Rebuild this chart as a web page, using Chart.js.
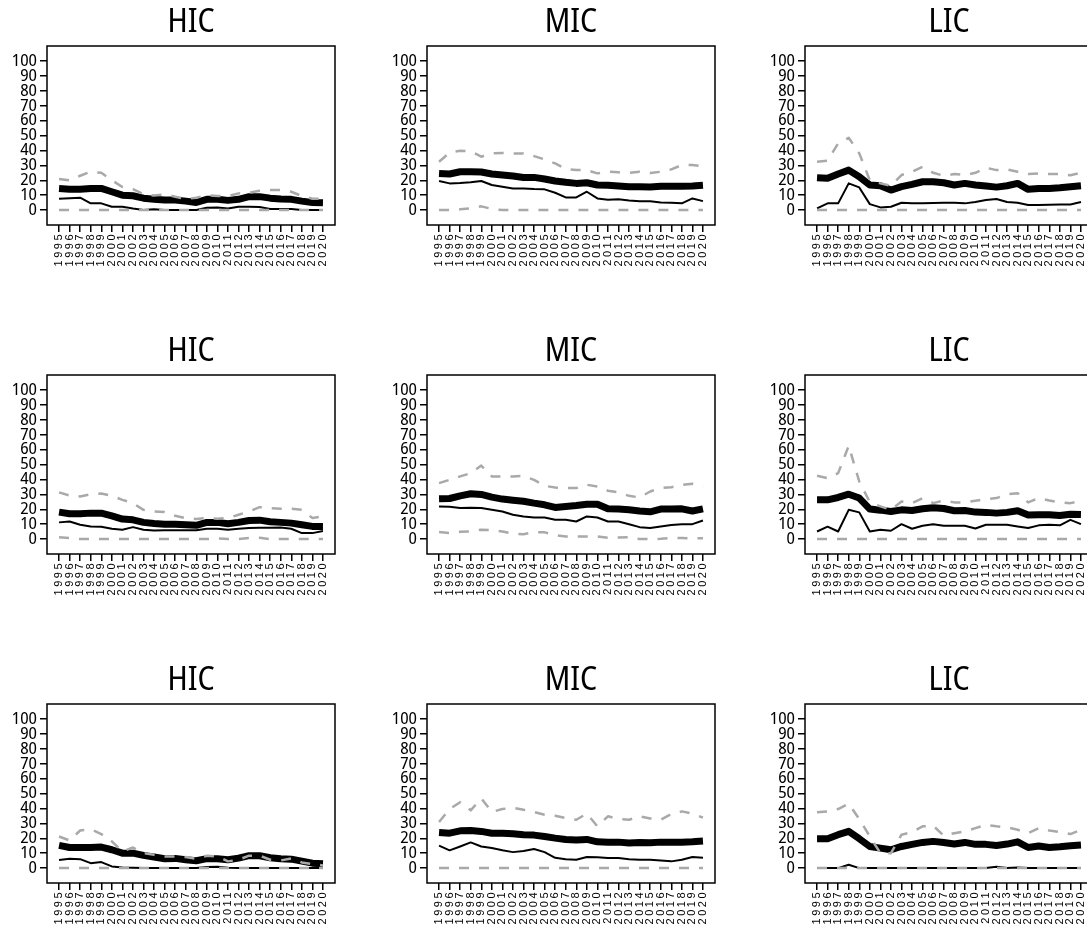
<!DOCTYPE html>
<html>
<head>
<meta charset="utf-8">
<script src="https://cdn.jsdelivr.net/npm/chart.js@4.4.1/dist/chart.umd.min.js"></script>
<style>
    html, body { margin: 0; padding: 0; background: #fff; width: 1087px; height: 932px; overflow: hidden; }
    .panel { position: absolute; width: 380px; height: 310px; }
</style>
</head>
<body>
<div class="panel" style="left:0px;top:0px"><canvas id="c1" width="380" height="310"></canvas></div>
<div class="panel" style="left:380px;top:0px"><canvas id="c2" width="380" height="310"></canvas></div>
<div class="panel" style="left:758px;top:0px"><canvas id="c3" width="380" height="310"></canvas></div>
<div class="panel" style="left:0px;top:329px"><canvas id="c4" width="380" height="310"></canvas></div>
<div class="panel" style="left:380px;top:329px"><canvas id="c5" width="380" height="310"></canvas></div>
<div class="panel" style="left:758px;top:329px"><canvas id="c6" width="380" height="310"></canvas></div>
<div class="panel" style="left:0px;top:658px"><canvas id="c7" width="380" height="310"></canvas></div>
<div class="panel" style="left:380px;top:658px"><canvas id="c8" width="380" height="310"></canvas></div>
<div class="panel" style="left:758px;top:658px"><canvas id="c9" width="380" height="310"></canvas></div>
<script>
const years = [1995, 1996, 1997, 1998, 1999, 2000, 2001, 2002, 2003, 2004, 2005, 2006, 2007,
    2008, 2009, 2010, 2011, 2012, 2013, 2014, 2015, 2016, 2017, 2018, 2019, 2020];
const yTicks = [0, 10, 20, 30, 40, 50, 60, 70, 80, 90, 100];

// Row 1
const hic1Thick = [14.5, 14, 14, 14.5, 14.5, 12.3, 10, 9.6, 8, 7.2, 6.7, 6.7, 6, 5.1, 7.2, 7.2, 6.5, 7.2, 9, 9, 8, 7.4, 7.2, 6, 5.1, 4.9];
const hic1Thin = [7.6, 8, 8.3, 4.5, 4.5, 2.2, 2.2, 1, 0, 0.5, 0, 0, 0, 0, 1.5, 1.8, 1, 2.2, 2.2, 2, 0.7, 0.7, 0.7, 0, 0, 0];
const hic1Upper = [20.8, 20, 23, 25.7, 25, 20, 15.5, 14, 10.7, 9.8, 10.5, 9, 7.4, 8.3, 10, 9.4, 9.4, 11.2, 11.6, 13, 13.4, 13.4, 12.3, 9.4, 7.6, 7.6];
const hic1Lower = [0, 0, 0, 0, 0, 0, 0, 0, 0, 0, 0, 0, 0, 0, 0, 0, 0, 0, 0, 0, 0, 0, 0, 0, 0, 0];

const mic1Thick = [24.6, 24.2, 25.7, 25.7, 25.5, 24.2, 23.5, 22.8, 21.9, 21.9, 20.8, 19.5, 18.6, 17.9, 18.3, 16.8, 16.6, 16.1, 15.7, 15.7, 15.4, 15.9, 15.9, 15.9, 16.1, 16.6];
const mic1Thin = [19.5, 17.9, 18.1, 18.6, 19.5, 16.8, 15.7, 14.5, 14.5, 14.1, 13.9, 11.6, 8.5, 8.5, 12.3, 7.8, 6.9, 7.2, 6.5, 6, 6, 5.1, 4.9, 4.5, 7.8, 6];
const mic1Upper = [32.4, 38.5, 39.8, 39.4, 35.8, 38, 38.3, 38, 38, 36.2, 34, 31.3, 27.5, 26.8, 26.8, 24.6, 25.7, 25.3, 25, 25.7, 24.8, 25.7, 27.3, 30.2, 30.2, 29.5];
const mic1Lower = [0, 0, 0.5, 1.2, 2.5, 0.8, 0, 0, 0, 0, 0, 0, 0, 0, 0, 0, 0, 0, 0, 0, 0, 0, 0, 0, 0, 0];

const lic1Thick = [21.7, 21.3, 24.2, 26.8, 22.4, 16.8, 16.3, 13.4, 15.7, 17.2, 19, 19, 18.3, 16.8, 17.9, 16.8, 16.1, 15.4, 16.3, 17.9, 13.9, 14.5, 14.5, 15, 15.7, 16.3];
const lic1Thin = [1.1, 4.5, 4.5, 17.9, 15.2, 4, 1.8, 2.2, 4.9, 4.5, 4.5, 4.7, 4.9, 4.9, 4.5, 5.4, 6.7, 7.4, 5.4, 4.9, 3.4, 3.4, 3.6, 3.8, 3.8, 5.4];
const lic1Upper = [32.4, 33.1, 44.7, 48.5, 38, 20, 17.9, 16.3, 23.5, 25.7, 29, 25, 23, 24.2, 23.5, 25, 28.4, 26.8, 27.3, 25.7, 24.2, 24.6, 24.2, 24.2, 23.3, 25];
const lic1Lower = [0, 0, 0, 0, 0, 0, 0, 0, 0, 0, 0, 0, 0, 0, 0, 0, 0, 0, 0, 0, 0, 0, 0, 0, 0, 0];

// Row 2
const hic2Thick = [18.1, 17, 17, 17.4, 17.4, 15.6, 13.4, 12.9, 11.2, 10.5, 10, 10, 9.6, 9.2, 11.2, 11.2, 10.3, 11.2, 12.5, 12.7, 11.6, 11.2, 10.7, 9.6, 8.5, 8.5];
const hic2Thin = [11.2, 11.8, 9.6, 8.5, 8.3, 6.9, 6.3, 8, 6.3, 5.8, 6, 6, 6, 6, 6.9, 6.9, 6.3, 6.9, 7.4, 7.6, 7.6, 7.8, 6.9, 4, 4, 5.4];
const hic2Upper = [31.3, 29.2, 28.6, 30.1, 30.6, 29, 26.3, 24.1, 19.6, 18.5, 18.1, 15.6, 14.1, 13.4, 14.1, 13.6, 14.1, 16.3, 18.5, 21.4, 20.8, 20.3, 20.3, 19.6, 14.1, 15.2];
const hic2Lower = [1.3, 0.7, 0, 0, 0, 0, 0, 0, 0, 0, 0, 0, 0, 0, 0, 0.4, 0, 0, 0.7, 0.9, 0, 0, 0, 0, 0, 0];

const mic2Thick = [27, 27.2, 29, 30.4, 29.9, 28.1, 26.8, 26.1, 25.4, 24.1, 23, 21.2, 21.9, 22.5, 23.4, 23.4, 20.3, 20.1, 19.6, 18.8, 18.3, 20.1, 20.1, 20.3, 18.8, 20.3];
const mic2Thin = [21.9, 21.7, 20.8, 21, 20.8, 19.6, 18.5, 16.3, 15.2, 14.5, 14.5, 12.9, 12.9, 11.8, 15.2, 14.5, 11.8, 11.8, 10, 8, 7.4, 8.5, 9.4, 10, 10, 12.5];
const mic2Upper = [37.5, 39.7, 42, 44.2, 49.3, 42, 42, 42, 42.4, 39.7, 35.7, 34.6, 34.2, 34.2, 36.4, 35.3, 32.4, 31.3, 29, 27.9, 31.9, 34.2, 34.8, 36.4, 37.1, 35.3];
const mic2Lower = [4.7, 4, 4.9, 5.1, 6.3, 6, 5.1, 3.6, 3.3, 4.7, 4.5, 2.7, 1.8, 1.8, 1.8, 1.8, 0.9, 1.1, 1.3, 0, 0, 0.2, 0.7, 0.7, 0.5, 0.5];

const lic2Thick = [26.3, 26.3, 27.9, 30.1, 27.5, 20.1, 19.4, 18.5, 19.6, 19.2, 20.3, 21, 20.5, 19, 19.2, 18.1, 17.9, 17.4, 17.9, 19, 16.1, 16.3, 16.3, 15.8, 16.7, 16.5];
const lic2Thin = [5.1, 8.3, 5.1, 19.6, 17.9, 5.1, 6.3, 5.6, 10, 6.9, 8.9, 10, 8.9, 8.9, 8.9, 7.1, 9.6, 9.6, 9.6, 8.5, 7.4, 9.2, 9.6, 9.2, 12.9, 10];
const lic2Upper = [42.4, 40.8, 44.2, 62.5, 38.6, 24.8, 21.9, 19.6, 25.2, 24.1, 27.5, 24.1, 25.9, 24.6, 24.6, 25.7, 26.8, 27.5, 30.1, 30.8, 24.6, 27.5, 25.9, 24.6, 24.1, 25.7];
const lic2Lower = [0, 0, 0, 0, 0, 0, 0, 0, 0, 0, 0, 0, 0, 0, 0, 0, 0, 0, 0, 0, 0, 0, 0, 0, 0, 0];

// Row 3
const hic3Thick = [15.2, 13.8, 13.8, 13.8, 14.1, 12.3, 10, 10, 8.5, 7.4, 6.3, 6.5, 5.6, 4.9, 6.3, 6.3, 5.6, 6.7, 8.3, 8.3, 6.9, 6.3, 6, 4.7, 3.3, 2.9];
const hic3Thin = [5.4, 6.3, 6, 3.3, 4, 1.1, 0.4, 0.2, 0, 0, 0, 0, 0, 0, 0.7, 0.9, 0.2, 0, 0, 0, 0, 0, 0, 0, 0, 0];
const hic3Upper = [21.2, 18.5, 25.2, 26.1, 22.8, 17.9, 11.2, 13.8, 10, 8.9, 7.8, 7.8, 7.4, 6.3, 8.3, 7.8, 4.5, 5.6, 8.3, 8.3, 5.6, 5.1, 6.5, 3.8, 2.7, 1.8];
const hic3Lower = [0, 0, 0, 0, 0, 0, 0, 0, 0, 0, 0, 0, 0, 0, 0, 0, 0, 0, 0, 0, 0, 0, 0, 0, 0, 0];

const mic3Thick = [23.9, 23.4, 25, 25.2, 24.6, 23.4, 23.4, 23, 22.3, 22.1, 21.2, 20.1, 19.2, 18.8, 19.2, 17.6, 17.4, 17.4, 16.8, 17.2, 17, 17.4, 17.4, 17.4, 17.6, 18.1];
const mic3Thin = [15, 11.9, 14.5, 17.2, 14.5, 13.4, 11.9, 10.7, 11.4, 12.8, 10.7, 6.9, 6, 5.6, 7.4, 7.2, 6.7, 6.7, 6, 5.6, 5.6, 5.1, 4.5, 5.6, 7.4, 6.9];
const mic3Upper = [30.9, 39.6, 44.1, 38.7, 46.8, 37.6, 39.6, 40.5, 39.1, 37.6, 35.8, 35.1, 33.6, 32.4, 36.5, 28, 34.7, 32.9, 32.4, 34.7, 33.3, 32.4, 36.2, 38, 36.5, 33.8];
const mic3Lower = [0, 0, 0, 0, 0, 0, 0, 0, 0, 0, 0, 0, 0, 0, 0, 0, 0, 0, 0, 0, 0, 0, 0, 0, 0, 0];

const lic3Thick = [19.7, 19.7, 22.4, 24.6, 19.7, 14.5, 13.4, 12.3, 14.5, 15.9, 17.2, 17.9, 17.2, 16.1, 17.2, 15.9, 15.9, 15.2, 16.1, 17.6, 13.8, 14.8, 13.8, 14.3, 15, 15.4];
const lic3Thin = [0, 0, 0, 2.2, 0, 0, 0, 0, 0, 0, 0, 0, 0, 0, 0, 0, 0, 0.9, 0, 0.4, 0, 0, 0, 0, 0, 0];
const lic3Upper = [37.4, 38, 39.6, 43.2, 32.9, 21.2, 10, 10, 22.4, 24.2, 28, 28.4, 21.7, 23.4, 24.6, 26.8, 29, 28, 27.3, 25.7, 23.4, 26.8, 25.2, 24.2, 22.8, 25.7];
const lic3Lower = [0, 0, 0, 0, 0, 0, 0, 0, 0, 0, 0, 0, 0, 0, 0, 0, 0, 0, 0, 0, 0, 0, 0, 0, 0, 0];

// narrow sans, like R's Helvetica output
const narrowFamily = "'Noto Sans Display', 'Liberation Sans', Arial, sans-serif";
const labelFamily = "'Liberation Sans', Arial, sans-serif";
const grey = '#a9a9a9';

// box around the plot region, like R's box()
const boxPlugin = {
    id: 'plotBox',
    afterDatasetsDraw(chart) {
        // x labels are drawn after this (ticks.z = 1), spread out a bit
        chart.ctx.letterSpacing = '2.5px';
    },
    afterDraw(chart) {
        const {ctx, chartArea} = chart;
        ctx.letterSpacing = '0px';
        ctx.save();
        ctx.strokeStyle = '#000';
        ctx.lineWidth = 1.5;
        ctx.strokeRect(chartArea.left, chartArea.top, chartArea.right - chartArea.left, chartArea.bottom - chartArea.top);
        ctx.restore();
    }
};

function toPoints(values) {
    return values.map((v, i) => ({x: years[i], y: v}));
}

function makePanel(id, title, thick, thin, upper, lower) {
    const ctx = document.getElementById(id).getContext('2d');
    return new Chart(ctx, {
        type: 'line',
        data: {
            datasets: [
                {data: toPoints(upper), borderColor: grey, borderWidth: 2.5, borderDash: [10, 10], order: 1},
                {data: toPoints(lower), borderColor: grey, borderWidth: 2.5, borderDash: [10, 10], order: 2},
                {data: toPoints(thin), borderColor: '#000', borderWidth: 2, order: 3},
                {data: toPoints(thick), borderColor: '#000', borderWidth: 7, order: 4},
            ]
        },
        options: {
            responsive: false,
            animation: false,
            devicePixelRatio: 1,
            layout: {padding: {left: 0, right: 45, top: 0, bottom: 0}},
            elements: {
                point: {radius: 0},
                line: {tension: 0, borderJoinStyle: 'round', borderCapStyle: 'butt', fill: false}
            },
            plugins: {
                legend: {display: false},
                tooltip: {enabled: false},
                title: {
                    display: true,
                    text: title,
                    fullSize: false,
                    color: '#000',
                    font: {family: narrowFamily, size: 32, weight: 'normal condensed', lineHeight: 1},
                    padding: {top: 7, bottom: 7},
                },
            },
            scales: {
                x: {
                    type: 'linear',
                    min: 1993.86,
                    max: 2021.14,
                    afterBuildTicks: axis => { axis.ticks = years.map(v => ({value: v})); },
                    afterFit: axis => { axis.height = 85; },
                    grid: {display: true, drawOnChartArea: false, drawTicks: true, tickLength: 7, color: '#000', lineWidth: 1.5},
                    border: {display: false},
                    ticks: {
                        z: 1,
                        autoSkip: false,
                        minRotation: 90,
                        maxRotation: 90,
                        padding: 0,
                        color: '#000',
                        font: {family: labelFamily, size: 11},
                        callback: v => String(v),
                    },
                },
                y: {
                    type: 'linear',
                    min: -10,
                    max: 110,
                    afterBuildTicks: axis => { axis.ticks = yTicks.map(v => ({value: v})); },
                    afterFit: axis => { axis.width = 47; },
                    grid: {display: true, drawOnChartArea: false, drawTicks: true, tickLength: 7, color: '#000', lineWidth: 1.5},
                    border: {display: false},
                    ticks: {
                        autoSkip: false,
                        padding: 3,
                        color: '#000',
                        font: {family: narrowFamily, size: 17, weight: 'normal condensed'},
                        callback: v => String(v),
                    },
                },
            },
        },
        plugins: [boxPlugin],
    });
}

makePanel('c1', 'HIC', hic1Thick, hic1Thin, hic1Upper, hic1Lower);
makePanel('c2', 'MIC', mic1Thick, mic1Thin, mic1Upper, mic1Lower);
makePanel('c3', 'LIC', lic1Thick, lic1Thin, lic1Upper, lic1Lower);
makePanel('c4', 'HIC', hic2Thick, hic2Thin, hic2Upper, hic2Lower);
makePanel('c5', 'MIC', mic2Thick, mic2Thin, mic2Upper, mic2Lower);
makePanel('c6', 'LIC', lic2Thick, lic2Thin, lic2Upper, lic2Lower);
makePanel('c7', 'HIC', hic3Thick, hic3Thin, hic3Upper, hic3Lower);
makePanel('c8', 'MIC', mic3Thick, mic3Thin, mic3Upper, mic3Lower);
makePanel('c9', 'LIC', lic3Thick, lic3Thin, lic3Upper, lic3Lower);
</script>
</body>
</html>
